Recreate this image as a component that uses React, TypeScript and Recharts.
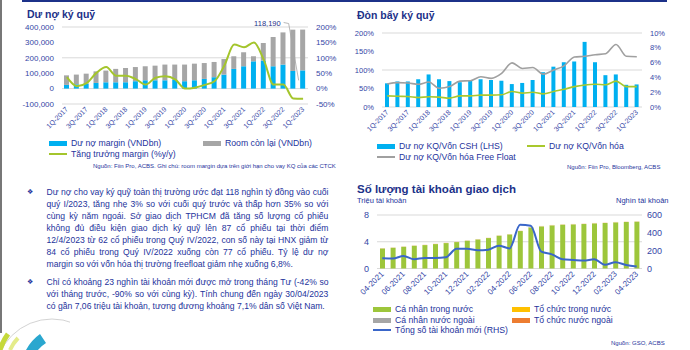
import React from "react";
import { ComposedChart, Bar, Line, XAxis, YAxis, CartesianGrid, LabelList } from "recharts";

const NAVY = "#1c3189";
const TICK = "#3446a6";
const TEXT = "#24339c";
const FONT = "'Liberation Sans', Arial, sans-serif";

// --- Dư nợ ký quỹ (quarterly) ---
const quarters = [
  "1Q-2017", "2Q-2017", "3Q-2017", "4Q-2017", "1Q-2018", "2Q-2018", "3Q-2018", "4Q-2018",
  "1Q-2019", "2Q-2019", "3Q-2019", "4Q-2019", "1Q-2020", "2Q-2020", "3Q-2020", "4Q-2020",
  "1Q-2021", "2Q-2021", "3Q-2021", "4Q-2021", "1Q-2022", "2Q-2022", "3Q-2022", "4Q-2022", "1Q-2023",
];
const marginDebt = [
  24000, 28000, 32000, 37000, 41000, 41000, 41000, 48000, 54000, 54000, 54000, 56000, 48000,
  54000, 63000, 74000, 91000, 128000, 145000, 177000, 182000, 145000, 156000, 114700, 118190,
];
const roomLeft = [
  62000, 63000, 65000, 75000, 76000, 87000, 93000, 92000, 91000, 95000, 102000, 100000, 108000,
  108000, 103000, 99000, 101000, 82000, 91000, 33000, 114000, 190000, 209000, 268000, 265000,
];
const marginGrowth = [
  0.37, 0.08, 0.18, 0.51, 0.7, 0.42, 0.42, 0.31, 0.13, 0.35, 0.4, 0.3, 0.0, 0.03, 0.12, 0.24,
  0.75, 1.43, 1.34, 1.5, 0.94, 0.13, 0.13, -0.32, -0.33,
];

// --- Đòn bẩy ký quỹ ---
const debtToEquity = [
  0.64, 0.69, 0.69, 0.75, 0.88, 0.75, 0.7, 0.67, 0.72, 0.75, 0.73, 0.71, 0.62, 0.65, 0.73, 0.94,
  1.09, 1.21, 1.23, 1.76, 1.21, 0.86, 0.88, 0.6, 0.61,
];
const debtToCap = [
  0.015, 0.0145, 0.0142, 0.0129, 0.0138, 0.0133, 0.012, 0.015, 0.015, 0.016, 0.016, 0.0165, 0.021,
  0.0187, 0.02, 0.0178, 0.021, 0.024, 0.0275, 0.0298, 0.0307, 0.03, 0.035, 0.0275, 0.0275,
];
const debtToFreeFloat = [
  0.031, 0.033, 0.0325, 0.0307, 0.0338, 0.0253, 0.0276, 0.035, 0.0355, 0.0409, 0.0387, 0.0453,
  0.0596, 0.052, 0.0533, 0.0444, 0.05, 0.0555, 0.0675, 0.0685, 0.0707, 0.072, 0.0845, 0.0685, 0.068,
];

// --- Số lượng tài khoản giao dịch (monthly) ---
const months = [
  "04-2021", "05-2021", "06-2021", "07-2021", "08-2021", "09-2021", "10-2021", "11-2021",
  "12-2021", "01-2022", "02-2022", "03-2022", "04-2022", "05-2022", "06-2022", "07-2022",
  "08-2022", "09-2022", "10-2022", "11-2022", "12-2022", "01-2023", "02-2023", "03-2023", "04-2023",
];
const indDomestic = [
  3.0, 3.1, 3.25, 3.4, 3.5, 3.65, 3.8, 3.95, 4.15, 4.35, 4.55, 4.9, 5.1, 5.6, 6.15, 6.3, 6.45,
  6.55, 6.6, 6.65, 6.75, 6.8, 6.9, 6.95, 7.0,
];
const orgDomestic = [
  0.013, 0.013, 0.013, 0.013, 0.014, 0.014, 0.014, 0.014, 0.014, 0.014, 0.015, 0.015, 0.015,
  0.015, 0.015, 0.015, 0.016, 0.016, 0.016, 0.016, 0.016, 0.016, 0.016, 0.016, 0.016,
];
const indForeign = [
  0.037, 0.037, 0.037, 0.038, 0.038, 0.038, 0.038, 0.039, 0.039, 0.039, 0.039, 0.039, 0.04,
  0.04, 0.04, 0.04, 0.04, 0.041, 0.041, 0.041, 0.041, 0.041, 0.041, 0.041, 0.041,
];
const orgForeign = [
  0.005, 0.005, 0.005, 0.005, 0.005, 0.005, 0.005, 0.005, 0.005, 0.005, 0.005, 0.005, 0.005,
  0.005, 0.005, 0.005, 0.005, 0.005, 0.005, 0.005, 0.005, 0.005, 0.005, 0.005, 0.005,
];
const newAccounts = [
  115, 111, 141, 104, 118, 118, 126, 222, 222, 204, 211, 256, 225, 490, 480, 189, 159, 104, 96,
  89, 104, 41, 70, 40, 23,
];

const para1 = [
  "Dư nợ cho vay ký quỹ toàn thị trường ước đạt 118 nghìn tỷ đồng vào cuối",
  "quý I/2023, tăng nhẹ 3% so với cuối quý trước và thấp hơn 35% so với",
  "cùng kỳ năm ngoái. Sở giao dịch TPHCM đã tăng số lượng cổ phiếu",
  "không đủ điều kiện giao dịch ký quỹ lên 87 cổ phiếu tại thời điểm",
  "12/4/2023 từ 62 cổ phiếu trong Quý IV/2022, con số này tại HNX giảm từ",
  "84 cổ phiếu trong Quý IV/2022 xuống còn 77 cổ phiếu. Tỷ lệ dư nợ",
  "margin so với vốn hóa thị trường freefloat giảm nhẹ xuống 6,8%.",
];
const para2 = [
  "Chỉ có khoảng 23 nghìn tài khoản mới được mở trong tháng Tư (-42% so",
  "với tháng trước, -90% so với cùng kỳ). Tính chung đến ngày 30/04/2023",
  "có gần 7,06 triệu tài khoản, tương đương khoảng 7,1% dân số Việt Nam.",
];

const d1 = quarters.map((q, i) => ({ q, margin: marginDebt[i], room: roomLeft[i], growth: marginGrowth[i] }));
const d2 = quarters.map((q, i) => ({ q, equity: debtToEquity[i], cap: debtToCap[i], ff: debtToFreeFloat[i] }));
const d3 = months.map((m, i) => ({
  m,
  ind: indDomestic[i],
  org: orgDomestic[i],
  indF: indForeign[i],
  orgF: orgForeign[i],
  acc: newAccounts[i],
}));

const pct = (v: number) => `${Math.round(v * 100)}%`;

function RotTick(props: any) {
  const { x, y, payload, fs } = props;
  return (
    <text
      x={x}
      y={y}
      transform={`rotate(-45 ${x} ${y})`}
      textAnchor="end"
      dy="0.35em"
      fontSize={fs}
      fill={TICK}
      fontFamily={FONT}
    >
      {payload.value}
    </text>
  );
}

function Annot(props: any) {
  const { x, y, width, value } = props;
  if (value !== 118190) return null;
  const cx = x + width / 2;
  return (
    <g>
      <text x={cx - 22} y={23} textAnchor="end" dy="0.35em" fontSize={7.5} fill={NAVY} fontFamily={FONT}>
        118,190
      </text>
      <polyline
        points={`${cx - 19},22.5 ${cx - 14},23.5 ${cx - 4},${y + 10}`}
        fill="none"
        stroke="#a6a6a6"
        strokeWidth={0.8}
      />
    </g>
  );
}

function Legend({ x, y, kind, color, label, fs = 8.7 }: any) {
  return (
    <div
      style={{
        position: "absolute",
        left: x,
        top: y - 6,
        height: 12,
        display: "flex",
        alignItems: "center",
        whiteSpace: "nowrap",
        fontSize: fs,
        color: TEXT,
      }}
    >
      <span
        style={{
          display: "inline-block",
          width: 18,
          height: kind === "rect" ? 5 : 2,
          background: color,
          marginRight: 4,
        }}
      />
      {label}
    </div>
  );
}

function Abs({ x, y, children, style }: any) {
  return (
    <div style={{ position: "absolute", left: x, top: y, whiteSpace: "nowrap", ...style }}>{children}</div>
  );
}

function Paragraph({ top, lines }: { top: number; lines: string[] }) {
  return (
    <div style={{ position: "absolute", left: 0, top }}>
      <div
        style={{
          position: "absolute",
          left: 27,
          top: 0,
          fontFamily: "'DejaVu Sans'",
          fontSize: 7,
          lineHeight: "12px",
          color: TEXT,
        }}
      >
        ❖
      </div>
      {lines.map((line, i) => {
        const last = i === lines.length - 1;
        return (
          <div
            key={i}
            style={{
              position: "absolute",
              left: 46.5,
              top: i * 12.1,
              width: 282,
              height: 12,
              lineHeight: "12px",
              fontSize: 8.6,
              color: TEXT,
              whiteSpace: "nowrap",
              display: last ? "block" : "flex",
              justifyContent: "space-between",
            }}
          >
            {last ? line : line.split(" ").map((w, j) => <span key={j}>{w}</span>)}
          </div>
        );
      })}
    </div>
  );
}

export default function App() {
  return (
    <div
      style={{
        position: "absolute",
        left: 0,
        top: 0,
        width: 690,
        height: 350,
        background: "#fff",
        overflow: "hidden",
        fontFamily: FONT,
      }}
    >
      {/* page frame */}
      <div style={{ position: "absolute", left: 22, top: 0, width: 645, height: 1.5, background: NAVY }} />
      <div style={{ position: "absolute", left: 0, top: 0, width: 1.5, height: 333, background: "#777" }} />
      <svg style={{ position: "absolute", left: 0, top: 310 }} width={70} height={40}>
        <circle cx={52} cy={66} r={57} fill="none" stroke="#c8c8c8" strokeWidth={0.8} />
        <path d="M 26 40 A 45 45 0 0 1 40 24 L 46 33 A 35 35 0 0 0 35 44 Z" fill="#2aa7cf" />
        <path d="M 0 40 A 52 52 0 0 1 8 24" fill="none" stroke="#c5d93a" strokeWidth={5} />
        <path d="M 10 40 A 42 42 0 0 1 18 28" fill="none" stroke="#e4ec8a" strokeWidth={4} />
      </svg>

      {/* Chart 1: Dư nợ ký quỹ */}
      <Abs x={27} y={8} style={{ fontSize: 10.5, fontWeight: "bold", color: NAVY }}>Dư nợ ký quỹ</Abs>
      <div style={{ position: "absolute", left: 0, top: 0 }}>
        <ComposedChart width={345} height={135} data={d1} margin={{ top: 27, right: 0, bottom: 0, left: 0 }}>
          <CartesianGrid yAxisId="l" vertical={false} stroke="#d9d9d9" />
          <XAxis
            dataKey="q"
            interval={1}
            tick={<RotTick fs={7} />}
            tickLine={false}
            axisLine={false}
            height={31}
            tickSize={2}
          />
          <YAxis
            yAxisId="l"
            domain={[-100000, 400000]}
            ticks={[-100000, 0, 100000, 200000, 300000, 400000]}
            tickFormatter={(v: number) => v.toLocaleString("en-US")}
            width={62}
            tick={{ fontSize: 8, fill: TICK, fontFamily: FONT }}
            axisLine={false}
            tickLine={false}
          />
          <YAxis
            yAxisId="r"
            orientation="right"
            domain={[-0.5, 2]}
            ticks={[-0.5, 0, 0.5, 1, 1.5, 2]}
            tickFormatter={pct}
            width={37}
            tick={{ fontSize: 8, fill: TICK, fontFamily: FONT }}
            axisLine={false}
            tickLine={false}
          />
          <Bar yAxisId="l" dataKey="margin" stackId="a" fill="#00b0f0" barSize={5} isAnimationActive={false}>
            <LabelList dataKey="margin" content={<Annot />} />
          </Bar>
          <Bar yAxisId="l" dataKey="room" stackId="a" fill="#a6a6a6" barSize={5} isAnimationActive={false} />
          <Line
            yAxisId="r"
            type="monotone"
            dataKey="growth"
            stroke="#a4c52c"
            strokeWidth={2}
            dot={false}
            isAnimationActive={false}
          />
        </ComposedChart>
      </div>
      <Legend x={49} y={143} kind="rect" color="#00b0f0" label="Dư nợ margin (VNDbn)" />
      <Legend x={203} y={143} kind="rect" color="#a6a6a6" label="Room còn lại (VNDbn)" />
      <Legend x={49} y={154} kind="line" color="#a4c52c" label="Tăng trưởng margin (%y/y)" />
      <Abs x={93} y={163} style={{ fontSize: 6, color: TEXT }}>
        Nguồn: Fiin Pro, ACBS. Ghi chú: room margin dựa trên giới hạn cho vay KQ của các CTCK
      </Abs>

      {/* Chart 2: Đòn bẩy ký quỹ */}
      <Abs x={357} y={9} style={{ fontSize: 10.5, fontWeight: "bold", color: NAVY }}>Đòn bẩy ký quỹ</Abs>
      <div style={{ position: "absolute", left: 345, top: 0 }}>
        <ComposedChart width={345} height={140} data={d2} margin={{ top: 33, right: 0, bottom: 0, left: 0 }}>
          <CartesianGrid yAxisId="l" vertical={false} stroke="#d9d9d9" />
          <XAxis
            dataKey="q"
            interval={1}
            tick={<RotTick fs={7} />}
            tickLine={false}
            axisLine={false}
            height={33}
            tickSize={2}
          />
          <YAxis
            yAxisId="l"
            domain={[0, 2]}
            ticks={[0, 0.5, 1, 1.5, 2]}
            tickFormatter={pct}
            width={37}
            tick={{ fontSize: 7.5, fill: TICK, fontFamily: FONT }}
            axisLine={false}
            tickLine={false}
          />
          <YAxis
            yAxisId="r"
            orientation="right"
            domain={[0, 0.1]}
            ticks={[0, 0.02, 0.04, 0.06, 0.08, 0.1]}
            tickFormatter={pct}
            width={48}
            tick={{ fontSize: 7.5, fill: TICK, fontFamily: FONT }}
            axisLine={false}
            tickLine={false}
          />
          <Bar yAxisId="l" dataKey="equity" fill="#00b0f0" barSize={4} isAnimationActive={false} />
          <Line yAxisId="r" type="monotone" dataKey="cap" stroke="#a9c82d" strokeWidth={1.6} dot={false} isAnimationActive={false} />
          <Line yAxisId="r" type="monotone" dataKey="ff" stroke="#a0a0a0" strokeWidth={1.6} dot={false} isAnimationActive={false} />
        </ComposedChart>
      </div>
      <Legend x={377} y={146} kind="rect" color="#00b0f0" label="Dư nợ KQ/Vốn CSH (LHS)" />
      <Legend x={527} y={146} kind="line" color="#a9c82d" label="Dư nợ KQ/Vốn hóa" />
      <Legend x={377} y={157} kind="line" color="#a0a0a0" label="Dư nợ KQ/Vốn hóa Free Float" />
      <Abs x={567} y={164} style={{ fontSize: 6, color: TEXT }}>Nguồn: Fiin Pro, Bloomberg, ACBS</Abs>

      {/* Chart 3: Số lượng tài khoản giao dịch */}
      <Abs x={357} y={183} style={{ fontSize: 11.5, fontWeight: "bold", color: NAVY }}>Số lượng tài khoản giao dịch</Abs>
      <Abs x={357} y={196} style={{ fontSize: 7.5, color: TEXT }}>Triệu tài khoản</Abs>
      <Abs x={616} y={196} style={{ fontSize: 7.5, color: TEXT }}>Nghìn tài khoản</Abs>
      <div style={{ position: "absolute", left: 345, top: 175 }}>
        <ComposedChart width={345} height={125} data={d3} margin={{ top: 40, right: 0, bottom: 0, left: 0 }}>
          <CartesianGrid yAxisId="l" vertical={false} stroke="#d9d9d9" />
          <XAxis
            dataKey="m"
            interval={1}
            tick={<RotTick fs={8} />}
            tickLine={false}
            axisLine={false}
            height={31.5}
            tickSize={2}
          />
          <YAxis
            yAxisId="l"
            domain={[0, 8]}
            ticks={[0, 2, 4, 6, 8]}
            width={32}
            tick={{ fontSize: 9, fill: TICK, fontFamily: FONT }}
            axisLine={false}
            tickLine={false}
          />
          <YAxis
            yAxisId="r"
            orientation="right"
            domain={[0, 600]}
            ticks={[0, 200, 400, 600]}
            width={48}
            tickSize={3}
            tick={{ fontSize: 9, fill: TICK, fontFamily: FONT }}
            axisLine={false}
            tickLine={false}
          />
          <Bar yAxisId="l" dataKey="ind" stackId="s" fill="#9dc63b" barSize={5} isAnimationActive={false} />
          <Bar yAxisId="l" dataKey="org" stackId="s" fill="#ffc000" barSize={5} isAnimationActive={false} />
          <Bar yAxisId="l" dataKey="indF" stackId="s" fill="#f2d0c0" barSize={5} isAnimationActive={false} />
          <Bar yAxisId="l" dataKey="orgF" stackId="s" fill="#ed7d31" barSize={5} isAnimationActive={false} />
          <Line yAxisId="r" type="monotone" dataKey="acc" stroke="#3a66c9" strokeWidth={2} dot={false} isAnimationActive={false} />
        </ComposedChart>
      </div>
      <Legend x={373} y={309} kind="rect" color="#9dc63b" label="Cá nhân trong nước" />
      <Legend x={512} y={309} kind="rect" color="#ffc000" label="Tổ chức trong nước" />
      <Legend x={373} y={320} kind="rect" color="#a6a6a6" label="Cá nhân nước ngoài" />
      <Legend x={512} y={320} kind="rect" color="#ed7d31" label="Tổ chức nước ngoài" />
      <Legend x={373} y={330} kind="line" color="#3a66c9" label="Tổng số tài khoản mới (RHS)" />
      <Abs x={611} y={340} style={{ fontSize: 6, color: TEXT }}>Nguồn: GSO, ACBS</Abs>

      {/* commentary */}
      <Paragraph top={185.7} lines={para1} />
      <Paragraph top={275.7} lines={para2} />
    </div>
  );
}
